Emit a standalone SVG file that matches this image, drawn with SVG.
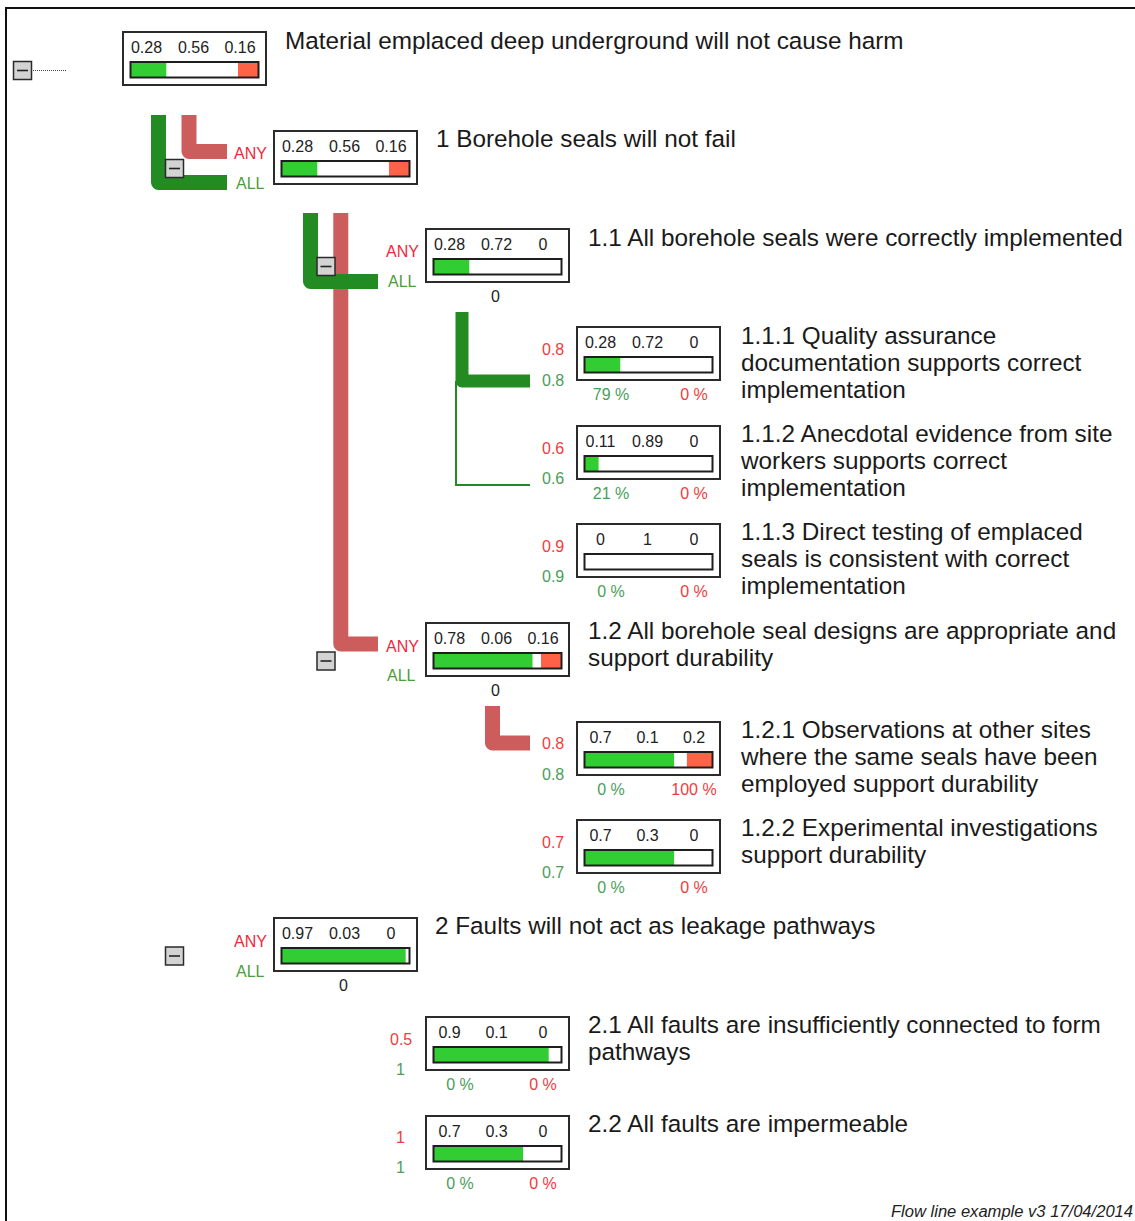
<svg xmlns="http://www.w3.org/2000/svg" width="1135" height="1221" viewBox="0 0 1135 1221">
<style>
text{font-family:"Liberation Sans",Arial,sans-serif}
.box{fill:#fff;stroke:#2b2b2b;stroke-width:2}
.bar{fill:none;stroke:#1e1e1e;stroke-width:2}
.bg{fill:#fff}
.g{fill:#32cd32}
.r{fill:#ff6347}
.num{font-size:16px;fill:#222;text-anchor:middle}
.title{font-size:24.3px;fill:#1a1a1a}
.any{font-size:16px;fill:#f0283c}
.all{font-size:16px;fill:#4a9e3a}
.wr{font-size:16px;fill:#f03c3c}
.wg{font-size:16px;fill:#4a9e5a}
.pg{font-size:16px;fill:#4a9e5a;text-anchor:middle}
.pr{font-size:16px;fill:#f03c3c;text-anchor:middle}
.btn{fill:#d3d3d3;stroke:#2a2a2a;stroke-width:1.5}
.minus{stroke:#222;stroke-width:1.6}
.tg{fill:none;stroke:#228b22;stroke-width:15;stroke-linejoin:round}
.tr{fill:none;stroke:#cd5c5c;stroke-width:15;stroke-linejoin:round}
.thin{fill:none;stroke:#228b22;stroke-width:2}
</style>
<rect width="1135" height="1221" fill="#fff"/>
<path d="M6,1221 V8 H1135" fill="none" stroke="#111" stroke-width="2"/>

<g id="connectors">
  <line x1="33" y1="70.5" x2="66" y2="70.5" stroke="#444" stroke-width="1" stroke-dasharray="1,1"/>
  <path class="tr" d="M189,115 V151.5 H227"/>
  <path class="tg" d="M158.5,115 V182.5 H227"/>
  <path class="tr" d="M340.8,213 V644 H378"/>
  <path class="tg" d="M310.5,213 V281.5 H378"/>
  <path class="thin" d="M456,381 V485 H530"/>
  <path class="tg" style="stroke-width:13" d="M462,312 V381 H530"/>
  <path class="tr" d="M492.5,706 V743 H530"/>
</g>

<g id="node-root">
  <rect class="btn" x="13.5" y="61.5" width="18" height="18"/>
  <line class="minus" x1="17" y1="70.5" x2="28" y2="70.5"/>
  <rect class="box" x="123" y="32" width="143" height="53"/>
  <rect class="bg" x="130.5" y="62" width="128" height="15.5"/>
  <rect class="g" x="130.5" y="62" width="35.8" height="15.5"/>
  <rect class="r" x="238" y="62" width="20.5" height="15.5"/>
  <rect class="bar" x="130.5" y="62" width="128" height="15.5"/>
  <text class="num" x="146.5" y="53">0.28</text>
  <text class="num" x="193.5" y="53">0.56</text>
  <text class="num" x="240" y="53">0.16</text>
  <text class="title" x="285" y="49">Material emplaced deep underground will not cause harm</text>
</g>

<g id="node-1">
  <rect class="box" x="274" y="131" width="143" height="53"/>
  <rect class="bg" x="281.5" y="161" width="128" height="15.5"/>
  <rect class="g" x="281.5" y="161" width="35.8" height="15.5"/>
  <rect class="r" x="389" y="161" width="20.5" height="15.5"/>
  <rect class="bar" x="281.5" y="161" width="128" height="15.5"/>
  <text class="num" x="297.5" y="152">0.28</text>
  <text class="num" x="344.5" y="152">0.56</text>
  <text class="num" x="391" y="152">0.16</text>
  <text class="any" x="234" y="159">ANY</text>
  <text class="all" x="236" y="189">ALL</text>
  <text class="title" x="436" y="147">1 Borehole seals will not fail</text>
  <rect class="btn" x="165.5" y="159.5" width="18" height="18"/>
  <line class="minus" x1="169" y1="168.5" x2="180" y2="168.5"/>
</g>

<g id="node-1-1">
  <rect class="box" x="426" y="229" width="143" height="53"/>
  <rect class="bg" x="433.5" y="259" width="128" height="15.5"/>
  <rect class="g" x="433.5" y="259" width="35.8" height="15.5"/>
  <rect class="bar" x="433.5" y="259" width="128" height="15.5"/>
  <text class="num" x="449.5" y="250">0.28</text>
  <text class="num" x="496.5" y="250">0.72</text>
  <text class="num" x="543" y="250">0</text>
  <text class="num" x="495.5" y="302">0</text>
  <text class="any" x="386" y="257">ANY</text>
  <text class="all" x="388" y="287">ALL</text>
  <text class="title" x="588" y="246">1.1 All borehole seals were correctly implemented</text>
  <rect class="btn" x="317" y="257.5" width="18" height="18"/>
  <line class="minus" x1="320.5" y1="266.5" x2="331.5" y2="266.5"/>
</g>

<g id="node-1-1-1">
  <rect class="box" x="577" y="327" width="143" height="53"/>
  <rect class="bg" x="584.5" y="357" width="128" height="15.5"/>
  <rect class="g" x="584.5" y="357" width="35.8" height="15.5"/>
  <rect class="bar" x="584.5" y="357" width="128" height="15.5"/>
  <text class="num" x="600.5" y="348">0.28</text>
  <text class="num" x="647.5" y="348">0.72</text>
  <text class="num" x="694" y="348">0</text>
  <text class="pg" x="611" y="400">79 %</text>
  <text class="pr" x="694" y="400">0 %</text>
  <text class="wr" x="542" y="355">0.8</text>
  <text class="wg" x="542" y="386">0.8</text>
  <text class="title" x="741" y="344">1.1.1 Quality assurance</text>
  <text class="title" x="741" y="371">documentation supports correct</text>
  <text class="title" x="741" y="398">implementation</text>
</g>

<g id="node-1-1-2">
  <rect class="box" x="577" y="426" width="143" height="53"/>
  <rect class="bg" x="584.5" y="456" width="128" height="15.5"/>
  <rect class="g" x="584.5" y="456" width="14.1" height="15.5"/>
  <rect class="bar" x="584.5" y="456" width="128" height="15.5"/>
  <text class="num" x="600.5" y="447">0.11</text>
  <text class="num" x="647.5" y="447">0.89</text>
  <text class="num" x="694" y="447">0</text>
  <text class="pg" x="611" y="499">21 %</text>
  <text class="pr" x="694" y="499">0 %</text>
  <text class="wr" x="542" y="454">0.6</text>
  <text class="wg" x="542" y="484">0.6</text>
  <text class="title" x="741" y="442">1.1.2 Anecdotal evidence from site</text>
  <text class="title" x="741" y="469">workers supports correct</text>
  <text class="title" x="741" y="496">implementation</text>
</g>

<g id="node-1-1-3">
  <rect class="box" x="577" y="524" width="143" height="53"/>
  <rect class="bg" x="584.5" y="554" width="128" height="15.5"/>
  <rect class="bar" x="584.5" y="554" width="128" height="15.5"/>
  <text class="num" x="600.5" y="545">0</text>
  <text class="num" x="647.5" y="545">1</text>
  <text class="num" x="694" y="545">0</text>
  <text class="pg" x="611" y="597">0 %</text>
  <text class="pr" x="694" y="597">0 %</text>
  <text class="wr" x="542" y="552">0.9</text>
  <text class="wg" x="542" y="582">0.9</text>
  <text class="title" x="741" y="540">1.1.3 Direct testing of emplaced</text>
  <text class="title" x="741" y="567">seals is consistent with correct</text>
  <text class="title" x="741" y="594">implementation</text>
</g>

<g id="node-1-2">
  <rect class="box" x="426" y="623" width="143" height="53"/>
  <rect class="bg" x="433.5" y="653" width="128" height="15.5"/>
  <rect class="g" x="433.5" y="653" width="99" height="15.5"/>
  <rect class="r" x="541" y="653" width="20.5" height="15.5"/>
  <rect class="bar" x="433.5" y="653" width="128" height="15.5"/>
  <text class="num" x="449.5" y="644">0.78</text>
  <text class="num" x="496.5" y="644">0.06</text>
  <text class="num" x="543" y="644">0.16</text>
  <text class="num" x="495.5" y="696">0</text>
  <text class="any" x="386" y="652">ANY</text>
  <text class="all" x="387" y="681">ALL</text>
  <text class="title" x="588" y="639">1.2 All borehole seal designs are appropriate and</text>
  <text class="title" x="588" y="666">support durability</text>
  <rect class="btn" x="317" y="652" width="18" height="18"/>
  <line class="minus" x1="320.5" y1="661" x2="331.5" y2="661"/>
</g>

<g id="node-1-2-1">
  <rect class="box" x="577" y="722" width="143" height="53"/>
  <rect class="bg" x="584.5" y="752" width="128" height="15.5"/>
  <rect class="g" x="584.5" y="752" width="89.6" height="15.5"/>
  <rect class="r" x="686.9" y="752" width="25.6" height="15.5"/>
  <rect class="bar" x="584.5" y="752" width="128" height="15.5"/>
  <text class="num" x="600.5" y="743">0.7</text>
  <text class="num" x="647.5" y="743">0.1</text>
  <text class="num" x="694" y="743">0.2</text>
  <text class="pg" x="611" y="795">0 %</text>
  <text class="pr" x="694" y="795">100 %</text>
  <text class="wr" x="542" y="749">0.8</text>
  <text class="wg" x="542" y="780">0.8</text>
  <text class="title" x="741" y="738">1.2.1 Observations at other sites</text>
  <text class="title" x="741" y="765">where the same seals have been</text>
  <text class="title" x="741" y="792">employed support durability</text>
</g>

<g id="node-1-2-2">
  <rect class="box" x="577" y="820" width="143" height="53"/>
  <rect class="bg" x="584.5" y="850" width="128" height="15.5"/>
  <rect class="g" x="584.5" y="850" width="89.6" height="15.5"/>
  <rect class="bar" x="584.5" y="850" width="128" height="15.5"/>
  <text class="num" x="600.5" y="841">0.7</text>
  <text class="num" x="647.5" y="841">0.3</text>
  <text class="num" x="694" y="841">0</text>
  <text class="pg" x="611" y="893">0 %</text>
  <text class="pr" x="694" y="893">0 %</text>
  <text class="wr" x="542" y="848">0.7</text>
  <text class="wg" x="542" y="878">0.7</text>
  <text class="title" x="741" y="836">1.2.2 Experimental investigations</text>
  <text class="title" x="741" y="863">support durability</text>
</g>

<g id="node-2">
  <rect class="box" x="274" y="918" width="143" height="53"/>
  <rect class="bg" x="281.5" y="948" width="128" height="15.5"/>
  <rect class="g" x="281.5" y="948" width="124.2" height="15.5"/>
  <rect class="bar" x="281.5" y="948" width="128" height="15.5"/>
  <text class="num" x="297.5" y="939">0.97</text>
  <text class="num" x="344.5" y="939">0.03</text>
  <text class="num" x="391" y="939">0</text>
  <text class="num" x="343.5" y="991">0</text>
  <text class="any" x="234" y="947">ANY</text>
  <text class="all" x="236" y="977">ALL</text>
  <text class="title" x="435" y="934">2 Faults will not act as leakage pathways</text>
  <rect class="btn" x="165.5" y="947" width="18" height="18"/>
  <line class="minus" x1="169" y1="956" x2="180" y2="956"/>
</g>

<g id="node-2-1">
  <rect class="box" x="426" y="1017" width="143" height="53"/>
  <rect class="bg" x="433.5" y="1047" width="128" height="15.5"/>
  <rect class="g" x="433.5" y="1047" width="115.2" height="15.5"/>
  <rect class="bar" x="433.5" y="1047" width="128" height="15.5"/>
  <text class="num" x="449.5" y="1038">0.9</text>
  <text class="num" x="496.5" y="1038">0.1</text>
  <text class="num" x="543" y="1038">0</text>
  <text class="pg" x="460" y="1090">0 %</text>
  <text class="pr" x="543" y="1090">0 %</text>
  <text class="wr" x="390" y="1045">0.5</text>
  <text class="wg" x="396" y="1075">1</text>
  <text class="title" x="588" y="1033">2.1 All faults are insufficiently connected to form</text>
  <text class="title" x="588" y="1060">pathways</text>
</g>

<g id="node-2-2">
  <rect class="box" x="426" y="1116" width="143" height="53"/>
  <rect class="bg" x="433.5" y="1146" width="128" height="15.5"/>
  <rect class="g" x="433.5" y="1146" width="89.6" height="15.5"/>
  <rect class="bar" x="433.5" y="1146" width="128" height="15.5"/>
  <text class="num" x="449.5" y="1137">0.7</text>
  <text class="num" x="496.5" y="1137">0.3</text>
  <text class="num" x="543" y="1137">0</text>
  <text class="pg" x="460" y="1189">0 %</text>
  <text class="pr" x="543" y="1189">0 %</text>
  <text class="wr" x="396" y="1143">1</text>
  <text class="wg" x="396" y="1173">1</text>
  <text class="title" x="588" y="1132">2.2 All faults are impermeable</text>
</g>

<text x="891" y="1217" font-size="16" font-style="italic" fill="#222" textLength="242" lengthAdjust="spacingAndGlyphs">Flow line example v3 17/04/2014</text>
</svg>
